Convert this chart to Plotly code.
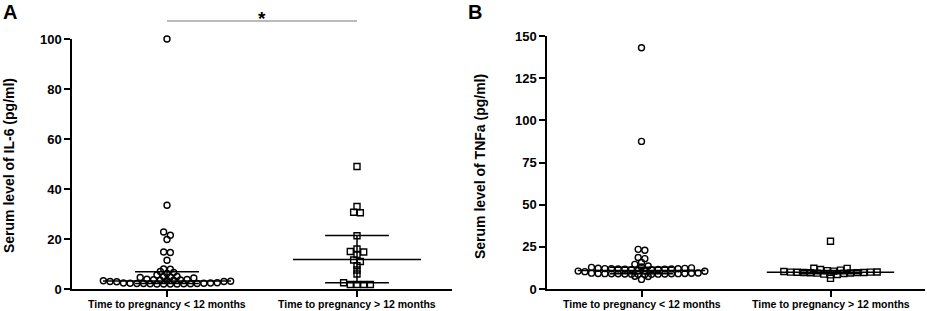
import numpy as np
import plotly.graph_objects as go

# ---------------- data ----------------
categories = ["Time to pregnancy < 12 months", "Time to pregnancy > 12 months"]

il6_lt12 = [2.0, 2.0, 2.0, 2.0, 2.1, 2.1, 2.1, 2.2, 2.2, 2.2, 2.3, 2.3, 2.4, 2.4, 2.5,
            2.9, 3.0, 3.0, 3.1,
            3.3, 3.4, 3.5, 3.5, 3.6, 3.7, 3.8, 3.9, 4.4,
            4.6, 4.8, 4.9, 5.0, 5.6,
            6.2, 6.6, 7.0, 7.9, 8.0,
            11.5, 14.6, 14.8, 19.8, 21.5, 22.8, 33.5, 100.0]
il6_gt12 = [1.8, 1.8, 1.8, 1.8, 2.5, 6.0, 7.6, 9.3, 11.0, 11.6, 13.8, 14.8, 15.0,
            16.0, 21.3, 30.5, 30.7, 33.0, 49.0]

tnfa_lt12 = [5.7, 7.4, 7.6,
             8.6, 8.7, 8.7, 8.8, 8.8, 8.9, 8.9, 9.0, 9.0, 9.0, 9.1, 9.1, 9.2, 9.2, 9.3,
             9.4, 9.5, 10.3, 10.5, 10.6, 10.8, 11.0,
             11.4, 11.5, 11.6, 11.7, 11.8, 11.9, 11.9, 12.0, 12.0, 12.1, 12.2, 12.3,
             12.5, 12.8, 13.0,
             13.6, 14.6, 15.8, 18.0, 18.7, 23.0, 23.5, 87.5, 143.0]
tnfa_gt12 = [6.3, 8.4, 8.6, 8.8, 9.2, 9.4, 9.5, 9.6, 9.7, 9.8, 9.8, 9.9, 10.0, 10.0,
             10.1, 10.4, 10.6, 10.9, 11.2, 11.6, 12.2, 12.3, 28.3]

# median with interquartile range (as drawn)
il6_median = [3.2, 11.8]
il6_q1 = [2.2, 2.5]
il6_q3 = [6.9, 21.4]
tnfa_median = [10.9, 9.9]
tnfa_q1 = [9.0, 9.0]
tnfa_q3 = [12.9, 11.0]

il6_ticks = [0, 20, 40, 60, 80, 100]
tnfa_ticks = [0, 25, 50, 75, 100, 125, 150]

# ---------------- geometry ----------------
W, H = 927, 311
ML, MR, MT, MB = 0, 0, 36, 22
PH = H - MT - MB
A_X0, A_X1 = 72, 452
B_X0, B_X1 = 547, 925
A_TOP = 39
FONT = "Arial, Liberation Sans, sans-serif"


def row_swarm(values, px_x, px_y, h=3.5, s=6.7):
    """GraphPad-like scatter: values within h px share a row, spread centre-out."""
    vals = np.asarray(values, dtype=float)
    order = list(np.argsort(vals, kind="stable"))
    offs = np.zeros(len(vals))
    i = 0
    while i < len(order):
        start = vals[order[i]]
        row = [order[i]]
        j = i + 1
        while j < len(order) and (vals[order[j]] - start) * px_y < h:
            row.append(order[j])
            j += 1
        n = len(row)
        pos = [(k - (n - 1) / 2.0) * s for k in range(n)]
        pos_sorted = sorted(pos, key=lambda p: (abs(p), -p))
        for idx, p in zip(row, pos_sorted):
            offs[idx] = p / px_x
        i = j
    return offs


pxx = (A_X1 - A_X0) / 2.0
pya = (289 - A_TOP) / 100.0
pyb = PH / 150.0

fig = go.Figure()

mk = dict(size=6, color="black", line=dict(width=1.4, color="black"))


def add_group(vals, idx, sym, xa, ya, pxy):
    off = row_swarm(vals, pxx, pxy)
    fig.add_trace(go.Scatter(
        x=idx + off, y=vals, mode="markers", xaxis=xa, yaxis=ya,
        marker=dict(symbol=sym, **mk), cliponaxis=False, showlegend=False,
        hoverinfo="y"))


def add_summary(med, q1, q3, xa, ya):
    xs, ys = [], []
    for i in range(len(med)):
        xs += [i - 0.337, i + 0.337, None, i - 0.168, i + 0.168, None,
               i - 0.168, i + 0.168, None, i, i, None]
        ys += [med[i], med[i], None, q3[i], q3[i], None,
               q1[i], q1[i], None, q1[i], q3[i], None]
    fig.add_trace(go.Scatter(x=xs, y=ys, mode="lines", xaxis=xa, yaxis=ya,
                             line=dict(color="black", width=1.5),
                             cliponaxis=False, showlegend=False, hoverinfo="skip"))


add_group(il6_lt12, 0, "circle-open", "x", "y", pya)
add_group(il6_gt12, 1, "square-open", "x", "y", pya)
add_summary(il6_median, il6_q1, il6_q3, "x", "y")

add_group(tnfa_lt12, 0, "circle-open", "x2", "y2", pyb)
add_group(tnfa_gt12, 1, "square-open", "x2", "y2", pyb)
add_summary(tnfa_median, tnfa_q1, tnfa_q3, "x2", "y2")

xcommon = dict(range=[-0.5, 1.5], tickvals=[0, 1], showticklabels=False,
               showline=True, linecolor="black", linewidth=1.5,
               ticks="outside", ticklen=6, tickwidth=1.5, tickcolor="black",
               showgrid=False, zeroline=False)
ycommon = dict(showline=True, linecolor="black", linewidth=1.5,
               ticks="outside", ticklen=6, tickwidth=1.5, tickcolor="black",
               showgrid=False, zeroline=False,
               tickfont=dict(family=FONT, size=13, color="black"))

fig.update_layout(
    width=W, height=H,
    margin=dict(l=ML, r=MR, t=MT, b=MB),
    paper_bgcolor="white", plot_bgcolor="white",
    xaxis=dict(domain=[A_X0 / W, A_X1 / W], anchor="y", **xcommon),
    xaxis2=dict(domain=[B_X0 / W, B_X1 / W], anchor="y2", **xcommon),
    yaxis=dict(domain=[0, (289 - A_TOP) / PH], anchor="x", range=[0, 100],
               tickvals=il6_ticks, ticktext=[f"<b>{t}</b>" for t in il6_ticks],
               **ycommon),
    yaxis2=dict(domain=[0, 1], anchor="x2", range=[0, 150],
                tickvals=tnfa_ticks, ticktext=[f"<b>{t}</b>" for t in tnfa_ticks],
                **ycommon),
)


def py(p):  # pixel row -> paper y
    return (289 - p) / PH


# category labels under each axis
for xr in ("x", "x2"):
    for i, c in enumerate(categories):
        fig.add_annotation(text=f"<b>{c}</b>", xref=xr, yref="paper", x=i, y=py(304),
                           showarrow=False, xanchor="center", yanchor="middle",
                           font=dict(family=FONT, size=10.5, color="black"))

fig.add_shape(type="line", xref="x", yref="paper", x0=0, x1=1,
              y0=py(21), y1=py(21), line=dict(color="#777777", width=1.2))
fig.add_annotation(text="<b>*</b>", xref="x", yref="paper", x=0.5, y=py(19),
                   showarrow=False, font=dict(family=FONT, size=19, color="black"),
                   xanchor="center", yanchor="middle")

fig.add_annotation(text="<b>A</b>", xref="paper", yref="paper", x=1 / W, y=py(12),
                   showarrow=False, xanchor="left", yanchor="middle",
                   font=dict(family=FONT, size=20, color="black"))
fig.add_annotation(text="<b>B</b>", xref="paper", yref="paper", x=466 / W, y=py(12),
                   showarrow=False, xanchor="left", yanchor="middle",
                   font=dict(family=FONT, size=20, color="black"))

fig.add_annotation(text="<b>Serum level of IL-6 (pg/ml)</b>", xref="paper", yref="paper",
                   x=9 / W, y=py(166), textangle=-90, showarrow=False,
                   xanchor="center", yanchor="middle",
                   font=dict(family=FONT, size=14, color="black"))
fig.add_annotation(text="<b>Serum level of TNFa (pg/ml)</b>", xref="paper", yref="paper",
                   x=480 / W, y=py(166), textangle=-90, showarrow=False,
                   xanchor="center", yanchor="middle",
                   font=dict(family=FONT, size=14, color="black"))

# the page is exactly the figure: drop the browser's default body margin
fig.write_html("out.html",
               config={"displayModeBar": False},
               post_script="document.body.style.margin='0';"
                           "document.body.style.overflow='hidden';")
